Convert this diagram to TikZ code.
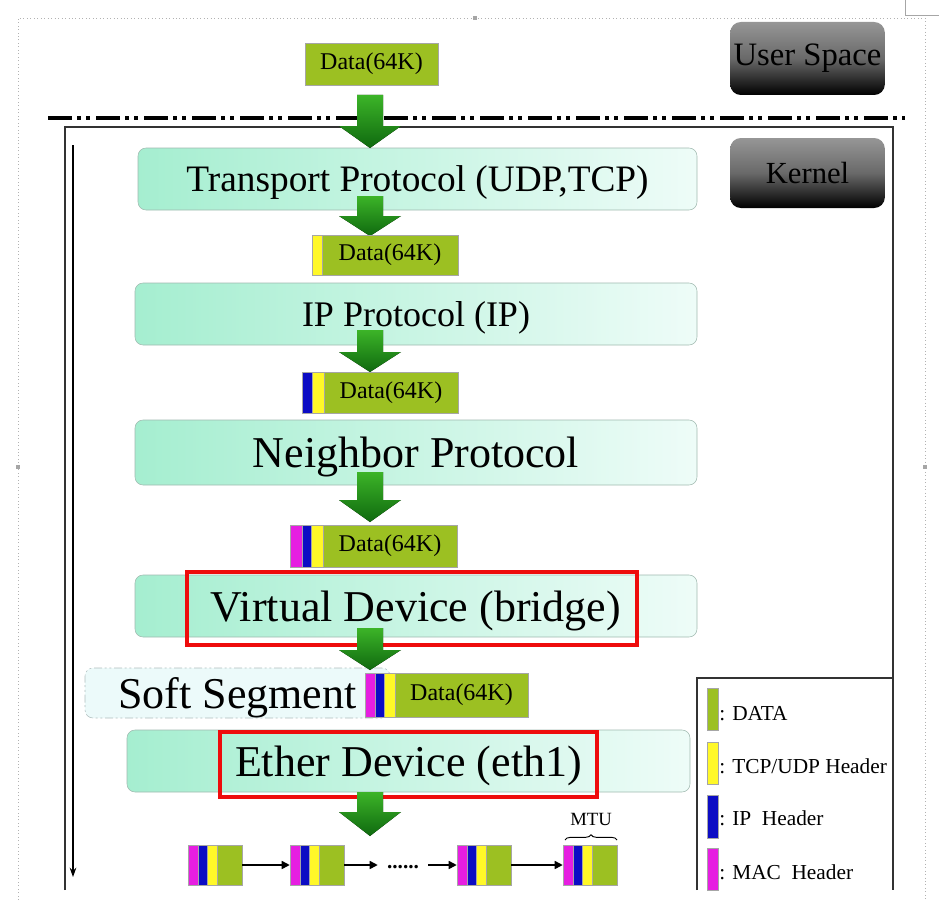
\documentclass[tikz,border=0pt]{standalone}
\usepackage{fontspec}
\setmainfont{Liberation Serif}
\usetikzlibrary{arrows.meta,decorations.pathreplacing,calc}
\definecolor{datagreen}{RGB}{156,192,34}
\definecolor{hdryellow}{RGB}{255,248,40}
\definecolor{hdrblue}{RGB}{12,12,196}
\definecolor{hdrmag}{RGB}{230,30,225}
\definecolor{mint}{RGB}{165,238,208}
\definecolor{mintlight}{RGB}{238,252,248}
\definecolor{arrowlight}{RGB}{60,180,40}
\definecolor{arrowdark}{RGB}{15,105,15}
\definecolor{framered}{RGB}{238,12,12}
\definecolor{softfill}{RGB}{236,250,250}
\newcommand{\garrow}[3]{\fill[top color=arrowlight,bottom color=arrowdark] (357,#1) -- (383,#1) -- (383,#2) -- (401,#2) -- (370,#3) -- (339,#2) -- (357,#2) -- cycle;}
\newcommand{\hdr}[5]{\filldraw[fill=#5,draw=gray!70] (#1,#3) rectangle (#2,#4);}
\begin{document}
\begin{tikzpicture}[x=0.75pt,y=-0.75pt,
  layer/.style={draw={rgb,255:red,160;green,185;blue,175},rounded corners=6pt,left color=mint,right color=mintlight,inner sep=0pt,minimum height=46.5pt,text=black,text depth=0pt},
  databox/.style={draw=gray!70,fill=datagreen,inner sep=0pt,minimum height=30pt,font=\fontsize{18}{20}\selectfont},
  darkbox/.style={rounded corners=8pt,top color={rgb,255:red,150;green,150;blue,150},bottom color=black,middle color={rgb,255:red,105;green,105;blue,105},inner sep=0pt,minimum width=116pt,text=black},
  redframe/.style={draw=framered,line width=3pt},
  flowarrow/.style={line width=1.2pt,-{Triangle[length=6pt,width=6pt]}},
  legendtxt/.style={anchor=west,inner sep=0pt,font=\fontsize{16}{18}\selectfont}]
\useasboundingbox (0,0) rectangle (939,917);
% page border
\draw[gray!60,dotted,line width=0.6pt] (18,900) -- (18,18) -- (925,18) -- (925,900);
\draw[gray!70,line width=0.5pt] (905,0) -- (905,15) -- (939,15);
\fill[gray!70] (473,16) rectangle (477,20);
\fill[gray!70] (16,465) rectangle (20,469);
\fill[gray!70] (923,465) rectangle (927,469);
% user / kernel boxes
\node[darkbox,minimum height=54.75pt,font=\fontsize{24.5}{26}\selectfont] (user) at (807.5,58.5) {User Space};
\draw[line width=3pt,dash pattern=on 18pt off 3.75pt on 3pt off 3.75pt on 3pt off 4.5pt] (48,118) -- (905,118);
\draw[line width=1.5pt,black!80] (65,890) -- (65,127) -- (893,127) -- (893,890);
\node[darkbox,minimum height=52.5pt,font=\fontsize{23}{25}\selectfont] (kernel) at (807.5,173) {Kernel};
\draw[line width=0.8pt,-{Stealth[length=7pt,width=5pt]}] (73,145) -- (73,877);
% top data
\node[databox,minimum width=99.75pt,minimum height=31.5pt] (d0) at (371.5,64) {Data(64K)};
% layers
\node[layer,minimum width=419.25pt,font=\fontsize{28}{30}\selectfont] (tp) at (417.5,179) {Transport Protocol (UDP,TCP)};
\node[layer,minimum width=421.5pt,font=\fontsize{27}{29}\selectfont] (ip) at (416,314) {IP Protocol (IP)};
\node[layer,minimum width=421.5pt,minimum height=48.75pt,font=\fontsize{33}{35}\selectfont] (nb) at (416,452.5) {Neighbor Protocol};
\node[layer,minimum width=421.5pt,font=\fontsize{33}{35}\selectfont] (vd) at (416,606) {Virtual Device (bridge)};
\node[draw={rgb,255:red,175;green,190;blue,190},dash pattern=on 6pt off 2pt on 1.5pt off 2pt on 1.5pt off 2pt,rounded corners=6pt,fill=softfill,inner sep=0pt,minimum width=228.75pt,minimum height=37.5pt,text depth=0pt,font=\fontsize{33}{35}\selectfont] (ss) at (237.5,693) {Soft Segment};
\node[layer,minimum width=422.25pt,font=\fontsize{33}{35}\selectfont] (ed) at (408.5,761) {Ether Device (eth1)};
% red frames
\draw[redframe] (187,572) rectangle (637,645);
\draw[redframe] (220,732) rectangle (597,797);
% green arrows
\garrow{95}{126}{148}
\garrow{196}{216}{236}
\garrow{330}{352}{372}
\garrow{472}{500}{522}
\garrow{628}{650}{670}
\garrow{792}{812}{836}
% packets
\hdr{312}{322}{235}{275}{hdryellow}
\node[databox,minimum width=102pt] (d1) at (390,255) {Data(64K)};
\hdr{302}{312}{372}{413}{hdrblue}
\hdr{312}{324}{372}{413}{hdryellow}
\node[databox,minimum width=100.5pt,minimum height=30.75pt] (d2) at (391,392.5) {Data(64K)};
\hdr{290}{302}{525}{567}{hdrmag}
\hdr{302}{311}{525}{567}{hdrblue}
\hdr{311}{323}{525}{567}{hdryellow}
\node[databox,minimum width=100.5pt,minimum height=31.5pt] (d3) at (390,546) {Data(64K)};
\hdr{365}{375}{673}{717}{hdrmag}
\hdr{375}{384}{673}{717}{hdrblue}
\hdr{384}{395}{673}{717}{hdryellow}
\node[databox,minimum width=99.75pt,minimum height=33pt] (d4) at (461.5,695) {Data(64K)};
% bottom frames
\foreach \n/\x in {p1/188,p2/290,p3/457,p4/563}{
  \hdr{\x}{\x+10}{845}{885}{hdrmag}
  \hdr{\x+10}{\x+19}{845}{885}{hdrblue}
  \hdr{\x+19}{\x+29}{845}{885}{hdryellow}
  \hdr{\x+29}{\x+54}{845}{885}{datagreen}
  \node[inner sep=0pt,minimum width=40.5pt,minimum height=30pt] (\n) at (\x+27,865) {};
}
\node[inner sep=0pt,minimum width=37.5pt,minimum height=10pt,font=\bfseries\fontsize{16}{16}\selectfont] (dots) at (403,867) {......};
\draw[flowarrow] (p1.east) -- (p2.west);
\draw[flowarrow] (p2.east) -- (p2.east -| dots.west);
\draw[flowarrow] (p3.west -| dots.east) -- (p3.west);
\draw[flowarrow] (p3.east) -- (p4.west);
\node[inner sep=0pt,font=\fontsize{14}{15}\selectfont] (mtu) at (591,819) {MTU};
\draw[line width=0.7pt,decorate,decoration={brace,amplitude=4pt}] (565,840) -- (617,840);
% legend
\draw[line width=1.5pt,black!80] (697,890) -- (697,678) -- (893,678);
\hdr{707}{718}{688}{730}{datagreen}
\hdr{707}{718}{742}{784}{hdryellow}
\hdr{707}{718}{795}{838}{hdrblue}
\hdr{707}{718}{848}{890}{hdrmag}
\node[legendtxt] (l1) at (719,714) {: DATA};
\node[legendtxt] (l2) at (719,766) {: TCP/UDP Header};
\node[legendtxt] (l3) at (719,818) {: IP~~Header};
\node[legendtxt] (l4) at (719,872) {: MAC~~Header};
\end{tikzpicture}
\end{document}
